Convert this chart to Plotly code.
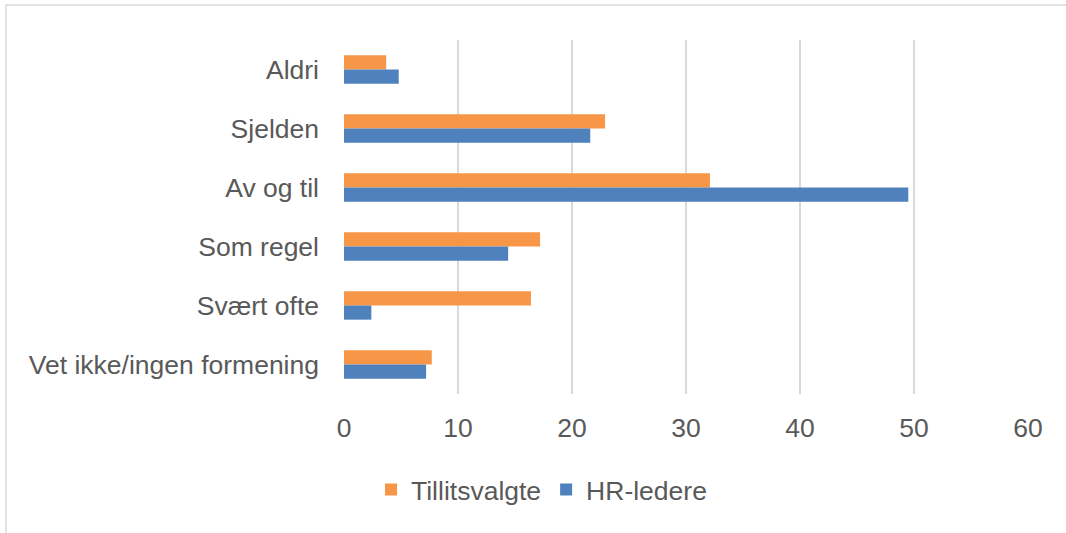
import plotly.graph_objects as go

categories = ["Aldri", "Sjelden", "Av og til", "Som regel", "Svært ofte", "Vet ikke/ingen formening"]
tillitsvalgte = [3.7, 22.9, 32.1, 17.2, 16.4, 7.7]
hr_ledere = [4.8, 21.6, 49.5, 14.4, 2.4, 7.2]
x_ticks = [0, 10, 20, 30, 40, 50, 60]

fig = go.Figure()
fig.add_trace(go.Bar(y=categories, x=tillitsvalgte, orientation="h", name="Tillitsvalgte",
                     marker=dict(color="#F79646", line=dict(width=0))))
fig.add_trace(go.Bar(y=categories, x=hr_ledere, orientation="h", name="HR-ledere",
                     marker=dict(color="#4F81BD", line=dict(width=0))))

W, H = 1066, 533
L, R, T, B = 344, 38, 40, 139
pw, ph = W - L - R, H - T - B
FS = 26.5

fig.update_layout(
    width=W, height=H,
    margin=dict(l=L, r=R, t=T, b=B),
    barmode="group", bargap=0.52, bargroupgap=0,
    plot_bgcolor="white", paper_bgcolor="white",
    font=dict(family="Liberation Sans, Arial, sans-serif", size=FS, color="#595959"),
    xaxis=dict(range=[0, 60], tickvals=x_ticks, showgrid=True, gridcolor="#D9D9D9", gridwidth=2,
               zeroline=False, showline=False, ticks="", ticklabelstandoff=15,
               tickfont=dict(size=FS, color="#595959"), fixedrange=True),
    yaxis=dict(autorange="reversed", showgrid=False, showline=False, ticks="",
               ticklabelstandoff=24, tickfont=dict(size=FS, color="#595959")),
    legend=dict(orientation="h", xref="container", yref="container", x=0.508, y=0.081,
                xanchor="center", yanchor="middle", font=dict(size=FS, color="#595959"),
                itemwidth=30, traceorder="normal"),
    showlegend=True,
)

# chart frame
fig.add_shape(type="rect", xref="paper", yref="paper",
              x0=(6 - L) / pw, x1=(W + 10 - L) / pw,
              y0=(T + ph - (H + 10)) / ph, y1=(T + ph - 5) / ph,
              line=dict(color="#D9D9D9", width=1.5), fillcolor="rgba(0,0,0,0)", layer="below")

fig.write_html("out.html", config={"displayModeBar": False},
               post_script="document.body.style.margin='0';document.body.style.overflow='hidden';")
